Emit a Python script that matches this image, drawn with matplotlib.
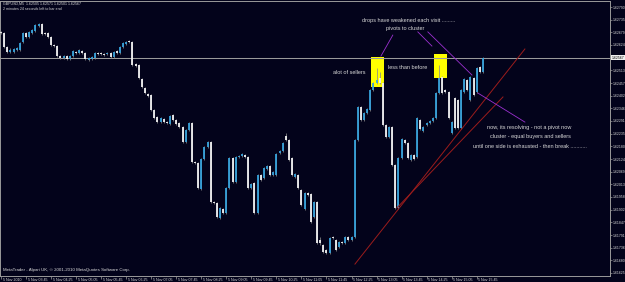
import matplotlib
matplotlib.use('Agg')
import matplotlib.pyplot as plt
import matplotlib.transforms as mtransforms
from matplotlib.patches import Rectangle

plt.rcParams['font.family'] = ['Liberation Sans', 'DejaVu Sans']

# ─── data: GBPUSD M5, 5 Nov 2010, one entry per bar (03:05 ... 15:55) ───
symbol = 'GBPUSD,M5'
opens = [
    1.62681, 1.62676, 1.62615, 1.62593, 1.62593, 1.62602, 1.62602, 1.62637, 1.62676, 1.62659,
    1.62676, 1.62685, 1.62707, 1.62716, 1.62676, 1.62676, 1.62659, 1.62624, 1.62619, 1.62575,
    1.62567, 1.62575, 1.62562, 1.62575, 1.62593, 1.62589, 1.62597, 1.62589, 1.62558, 1.62562,
    1.62567, 1.62589, 1.62589, 1.62584, 1.62584, 1.62589, 1.62571, 1.62597, 1.62589, 1.62615,
    1.62628, 1.62641, 1.62637, 1.62540, 1.62536, 1.62475, 1.62435, 1.62409, 1.62405, 1.62339,
    1.62308, 1.62286, 1.62300, 1.62286, 1.62278, 1.62317, 1.62295, 1.62282, 1.62264, 1.62199,
    1.62251, 1.62282, 1.62111, 1.62107, 1.61993, 1.62124, 1.62177, 1.62199, 1.61936, 1.61932,
    1.61866, 1.61905, 1.61888, 1.61997, 1.62129, 1.62024, 1.62133, 1.62137, 1.62142, 1.62133,
    1.61997, 1.62019, 1.61888, 1.62054, 1.62041, 1.62080, 1.62094, 1.62054, 1.62054, 1.62151,
    1.62159, 1.62225, 1.62208, 1.62129, 1.62045, 1.62054, 1.61989, 1.61905, 1.61975, 1.61971,
    1.61870, 1.61936, 1.61770, 1.61748, 1.61726, 1.61713, 1.61783, 1.61770, 1.61739, 1.61761,
    1.61756, 1.61783, 1.61770, 1.61783, 1.62208, 1.62352, 1.62295, 1.62326, 1.62339, 1.62427,
    1.62457, 1.62479, 1.62457, 1.62273, 1.62221, 1.62264, 1.62098, 1.61910, 1.62129, 1.62208,
    1.62194, 1.62120, 1.62142, 1.62133, 1.62295, 1.62247, 1.62273, 1.62282, 1.62291, 1.62304,
    1.62413, 1.62483, 1.62427, 1.62418, 1.62238, 1.62392, 1.62383, 1.62260, 1.62418, 1.62470,
    1.62383, 1.62479, 1.62418, 1.62527, 1.62505,
]
highs = [
    1.62685, 1.62681, 1.62619, 1.62610, 1.62610, 1.62615, 1.62637, 1.62681, 1.62681, 1.62685,
    1.62694, 1.62716, 1.62720, 1.62720, 1.62681, 1.62681, 1.62663, 1.62628, 1.62624, 1.62580,
    1.62580, 1.62580, 1.62580, 1.62602, 1.62597, 1.62606, 1.62602, 1.62593, 1.62571, 1.62575,
    1.62593, 1.62593, 1.62593, 1.62589, 1.62593, 1.62593, 1.62597, 1.62602, 1.62619, 1.62637,
    1.62641, 1.62646, 1.62641, 1.62545, 1.62540, 1.62479, 1.62440, 1.62413, 1.62409, 1.62343,
    1.62313, 1.62308, 1.62304, 1.62291, 1.62317, 1.62321, 1.62300, 1.62286, 1.62269, 1.62256,
    1.62286, 1.62286, 1.62116, 1.62111, 1.62128, 1.62181, 1.62203, 1.62203, 1.61940, 1.61936,
    1.61914, 1.61910, 1.62002, 1.62133, 1.62133, 1.62137, 1.62142, 1.62151, 1.62146, 1.62137,
    1.62019, 1.62024, 1.62059, 1.62059, 1.62089, 1.62098, 1.62098, 1.62072, 1.62151, 1.62164,
    1.62199, 1.62238, 1.62212, 1.62133, 1.62063, 1.62059, 1.61993, 1.61980, 1.61980, 1.61975,
    1.61940, 1.61940, 1.61783, 1.61752, 1.61730, 1.61783, 1.61787, 1.61774, 1.61765, 1.61765,
    1.61787, 1.61787, 1.61787, 1.62212, 1.62356, 1.62356, 1.62330, 1.62348, 1.62431, 1.62462,
    1.62523, 1.62505, 1.62462, 1.62278, 1.62269, 1.62269, 1.62102, 1.62133, 1.62216, 1.62212,
    1.62199, 1.62146, 1.62146, 1.62308, 1.62300, 1.62269, 1.62286, 1.62295, 1.62308, 1.62418,
    1.62536, 1.62488, 1.62431, 1.62422, 1.62291, 1.62396, 1.62387, 1.62431, 1.62479, 1.62475,
    1.62488, 1.62483, 1.62527, 1.62532, 1.62571,
]
lows = [
    1.62672, 1.62610, 1.62589, 1.62589, 1.62589, 1.62597, 1.62597, 1.62632, 1.62654, 1.62654,
    1.62672, 1.62681, 1.62702, 1.62667, 1.62667, 1.62654, 1.62619, 1.62615, 1.62571, 1.62562,
    1.62562, 1.62558, 1.62558, 1.62571, 1.62584, 1.62584, 1.62584, 1.62558, 1.62554, 1.62558,
    1.62562, 1.62580, 1.62580, 1.62575, 1.62580, 1.62567, 1.62567, 1.62584, 1.62584, 1.62610,
    1.62624, 1.62632, 1.62532, 1.62527, 1.62475, 1.62435, 1.62409, 1.62396, 1.62335, 1.62300,
    1.62282, 1.62282, 1.62282, 1.62278, 1.62273, 1.62291, 1.62273, 1.62260, 1.62194, 1.62194,
    1.62247, 1.62107, 1.62102, 1.61993, 1.61989, 1.62120, 1.62172, 1.61932, 1.61927, 1.61866,
    1.61862, 1.61883, 1.61883, 1.61993, 1.62019, 1.62019, 1.62129, 1.62133, 1.62129, 1.61993,
    1.61993, 1.61883, 1.61883, 1.62028, 1.62037, 1.62076, 1.62050, 1.62050, 1.62050, 1.62146,
    1.62155, 1.62203, 1.62116, 1.62050, 1.62041, 1.61993, 1.61918, 1.61901, 1.61962, 1.61844,
    1.61866, 1.61752, 1.61748, 1.61713, 1.61708, 1.61708, 1.61774, 1.61721, 1.61735, 1.61752,
    1.61752, 1.61765, 1.61765, 1.61778, 1.62203, 1.62291, 1.62291, 1.62321, 1.62335, 1.62422,
    1.62453, 1.62453, 1.62269, 1.62216, 1.62216, 1.62094, 1.61905, 1.61905, 1.62124, 1.62190,
    1.62124, 1.62116, 1.62120, 1.62129, 1.62251, 1.62243, 1.62269, 1.62278, 1.62286, 1.62300,
    1.62409, 1.62409, 1.62413, 1.62300, 1.62234, 1.62256, 1.62256, 1.62256, 1.62413, 1.62422,
    1.62378, 1.62400, 1.62413, 1.62501, 1.62501,
]
closes = [
    1.62676, 1.62615, 1.62593, 1.62602, 1.62606, 1.62610, 1.62632, 1.62676, 1.62659, 1.62681,
    1.62689, 1.62711, 1.62716, 1.62672, 1.62672, 1.62659, 1.62624, 1.62619, 1.62575, 1.62567,
    1.62575, 1.62562, 1.62575, 1.62597, 1.62589, 1.62602, 1.62589, 1.62562, 1.62567, 1.62571,
    1.62589, 1.62584, 1.62584, 1.62580, 1.62589, 1.62571, 1.62593, 1.62589, 1.62615, 1.62632,
    1.62637, 1.62637, 1.62536, 1.62532, 1.62479, 1.62440, 1.62413, 1.62400, 1.62339, 1.62304,
    1.62286, 1.62304, 1.62286, 1.62282, 1.62313, 1.62295, 1.62278, 1.62264, 1.62199, 1.62251,
    1.62282, 1.62111, 1.62107, 1.61997, 1.62124, 1.62177, 1.62199, 1.61936, 1.61932, 1.61870,
    1.61910, 1.61888, 1.61997, 1.62129, 1.62024, 1.62133, 1.62137, 1.62146, 1.62133, 1.61997,
    1.62015, 1.61888, 1.62054, 1.62032, 1.62085, 1.62094, 1.62054, 1.62067, 1.62146, 1.62159,
    1.62194, 1.62208, 1.62120, 1.62054, 1.62059, 1.61997, 1.61923, 1.61975, 1.61967, 1.61848,
    1.61936, 1.61756, 1.61756, 1.61717, 1.61713, 1.61778, 1.61778, 1.61726, 1.61761, 1.61756,
    1.61783, 1.61770, 1.61783, 1.62208, 1.62352, 1.62295, 1.62326, 1.62343, 1.62427, 1.62457,
    1.62470, 1.62457, 1.62273, 1.62221, 1.62264, 1.62098, 1.61910, 1.62129, 1.62212, 1.62194,
    1.62129, 1.62142, 1.62124, 1.62304, 1.62256, 1.62264, 1.62282, 1.62291, 1.62304, 1.62413,
    1.62479, 1.62413, 1.62418, 1.62304, 1.62286, 1.62260, 1.62260, 1.62427, 1.62475, 1.62427,
    1.62483, 1.62405, 1.62523, 1.62505, 1.62567,
]

time_labels = ['5 Nov 2010', '5 Nov 03:45', '5 Nov 04:25', '5 Nov 05:05', '5 Nov 05:45',
               '5 Nov 06:25', '5 Nov 07:05', '5 Nov 07:45', '5 Nov 08:25', '5 Nov 09:05',
               '5 Nov 09:45', '5 Nov 10:25', '5 Nov 11:05', '5 Nov 11:45', '5 Nov 12:25',
               '5 Nov 13:05', '5 Nov 13:45', '5 Nov 14:25', '5 Nov 15:05', '5 Nov 15:45']
bars_per_label = 8
price_ticks = [1.62790, 1.62735, 1.62679, 1.62624, 1.62513, 1.62457, 1.62402, 1.62346,
               1.62291, 1.62235, 1.62180, 1.62124, 1.62069, 1.62013, 1.61958, 1.61902,
               1.61847, 1.61791, 1.61736, 1.61680, 1.61625]

# ─── colours ───
BG = '#03031b'
UP = '#36a3dc'
DOWN = '#f2f2f2'
WICK = '#8a8a8a'
AXIS = '#9a9a9a'
TXT = '#d8d8d8'
PURPLE = '#9b30d0'
RED = '#9c1c1c'

fig = plt.figure(figsize=(6.25, 2.82), dpi=100, facecolor=BG)
ax = fig.add_axes([0, 6 / 282, 610 / 625, 275 / 282], facecolor=BG)
ax.set_xlim(-0.32, 194.6)
ax.set_ylim(1.616118, 1.628163)

n = len(closes)
xs = list(range(n))

# yellow boxes behind the candles
for x0, x1, p0, p1 in [(118.2, 122.4, 1.62440, 1.62571), (138.3, 142.5, 1.62479, 1.62584)]:
    ax.add_patch(Rectangle((x0, p0), x1 - x0, p1 - p0, facecolor='#ffff00',
                           edgecolor='none', zorder=1))

# bid line
bid = closes[-1]
ax.axhline(bid, color=AXIS, lw=0.75, zorder=2)

# candles
ax.vlines(xs, lows, highs, color=WICK, lw=0.55, zorder=3)
body_lo = [min(o, c) for o, c in zip(opens, closes)]
body_hi = [max(max(o, c), min(o, c) + 0.00004) for o, c in zip(opens, closes)]
cols = [UP if c > o else DOWN for o, c in zip(opens, closes)]
ax.vlines(xs, body_lo, body_hi, colors=cols, lw=1.3, zorder=4, capstyle='butt')

# trend lines
for (xa, pa), (xb, pb) in [((113.1, 1.61664), (167.4, 1.62606)),
                           ((126.5, 1.61910), (160.4, 1.62396))]:
    ax.plot([xa, xb], [pa, pb], color=RED, lw=0.7, zorder=5)
for (xa, pa), (xb, pb) in [((125.2, 1.62667), (121.4, 1.62575)),
                           ((133.2, 1.62681), (137.7, 1.62619)),
                           ((136.4, 1.62681), (150.5, 1.62492)),
                           ((152.4, 1.62413), (167.4, 1.62286))]:
    ax.plot([xa, xb], [pa, pb], color=PURPLE, lw=0.6, zorder=5)

# notes
notes = [
    ('drops have weakened each visit .........', 130.4, 1.62733, 'center'),
    ('pivots to cluster', 129.1, 1.62698, 'center'),
    ('alot of sellers', 111.2, 1.62505, 'center'),
    ('less than before', 130.0, 1.62523, 'center'),
    ('now, its resolving - not a pivot now', 155.3, 1.62264, 'left'),
    ('cluster - equal buyers and sellers', 156.2, 1.62221, 'left'),
    ('until one side is exhausted - then break ...........', 150.8, 1.62177, 'left'),
]
for txt, x, p, ha in notes:
    ax.text(x, p, txt, color=TXT, fontsize=4, ha=ha, va='center', zorder=6)

# header / footer
o, h, l, c = opens[-1], highs[-1], lows[-1], closes[-1]
ax.text(3 / 610, (276 - 4) / 275, f'{symbol}  {o:.5f} {h:.5f} {l:.5f} {c:.5f}',
        transform=ax.transAxes, color=TXT, fontsize=2.6, va='center', ha='left')
ax.text(3 / 610, (276 - 9) / 275, '2 minutes 24 seconds left to bar end',
        transform=ax.transAxes, color=TXT, fontsize=2.6, va='center', ha='left')
ax.text(3 / 610, (276 - 270) / 275,
        'MetaTrader - Alpari UK, \u00a9 2001-2010 MetaQuotes Software Corp.',
        transform=ax.transAxes, color=TXT, fontsize=3.2, va='center', ha='left')

# axes styling
for side in ['left', 'top', 'right', 'bottom']:
    ax.spines[side].set_color(AXIS)
    ax.spines[side].set_linewidth(0.7)

ax.yaxis.tick_right()
ax.set_yticks(price_ticks)
ax.set_yticklabels([f'{t:.5f}' for t in price_ticks])
ax.tick_params(axis='y', colors=AXIS, labelcolor=TXT, labelsize=2.5, length=1.5,
               width=0.5, pad=0.8, direction='out')

# time axis: tick marks plus labels placed just right of each mark
label_pos = [i * bars_per_label for i in range(len(time_labels))]
ax.set_xticks(label_pos)
ax.set_xticklabels([])
ax.tick_params(axis='x', colors=AXIS, length=2.0, width=0.5, direction='out')
xtr = mtransforms.blended_transform_factory(ax.transData, ax.transAxes)
for pos, lab in zip(label_pos, time_labels):
    ax.text(pos + 0.5, -0.006, lab, transform=xtr, fontsize=2.6, color=TXT,
            ha='left', va='top', clip_on=False)

# current price label on the axis
tr = mtransforms.blended_transform_factory(ax.transAxes, ax.transData)
ax.text(1.003, bid, f'{bid:.5f}', transform=tr, fontsize=2.5, color='#000000',
        ha='left', va='center', clip_on=False,
        bbox=dict(boxstyle='square,pad=0.15', facecolor='#f0f0f0', edgecolor='none'))

fig.savefig('out.png', dpi=100, facecolor=BG)
